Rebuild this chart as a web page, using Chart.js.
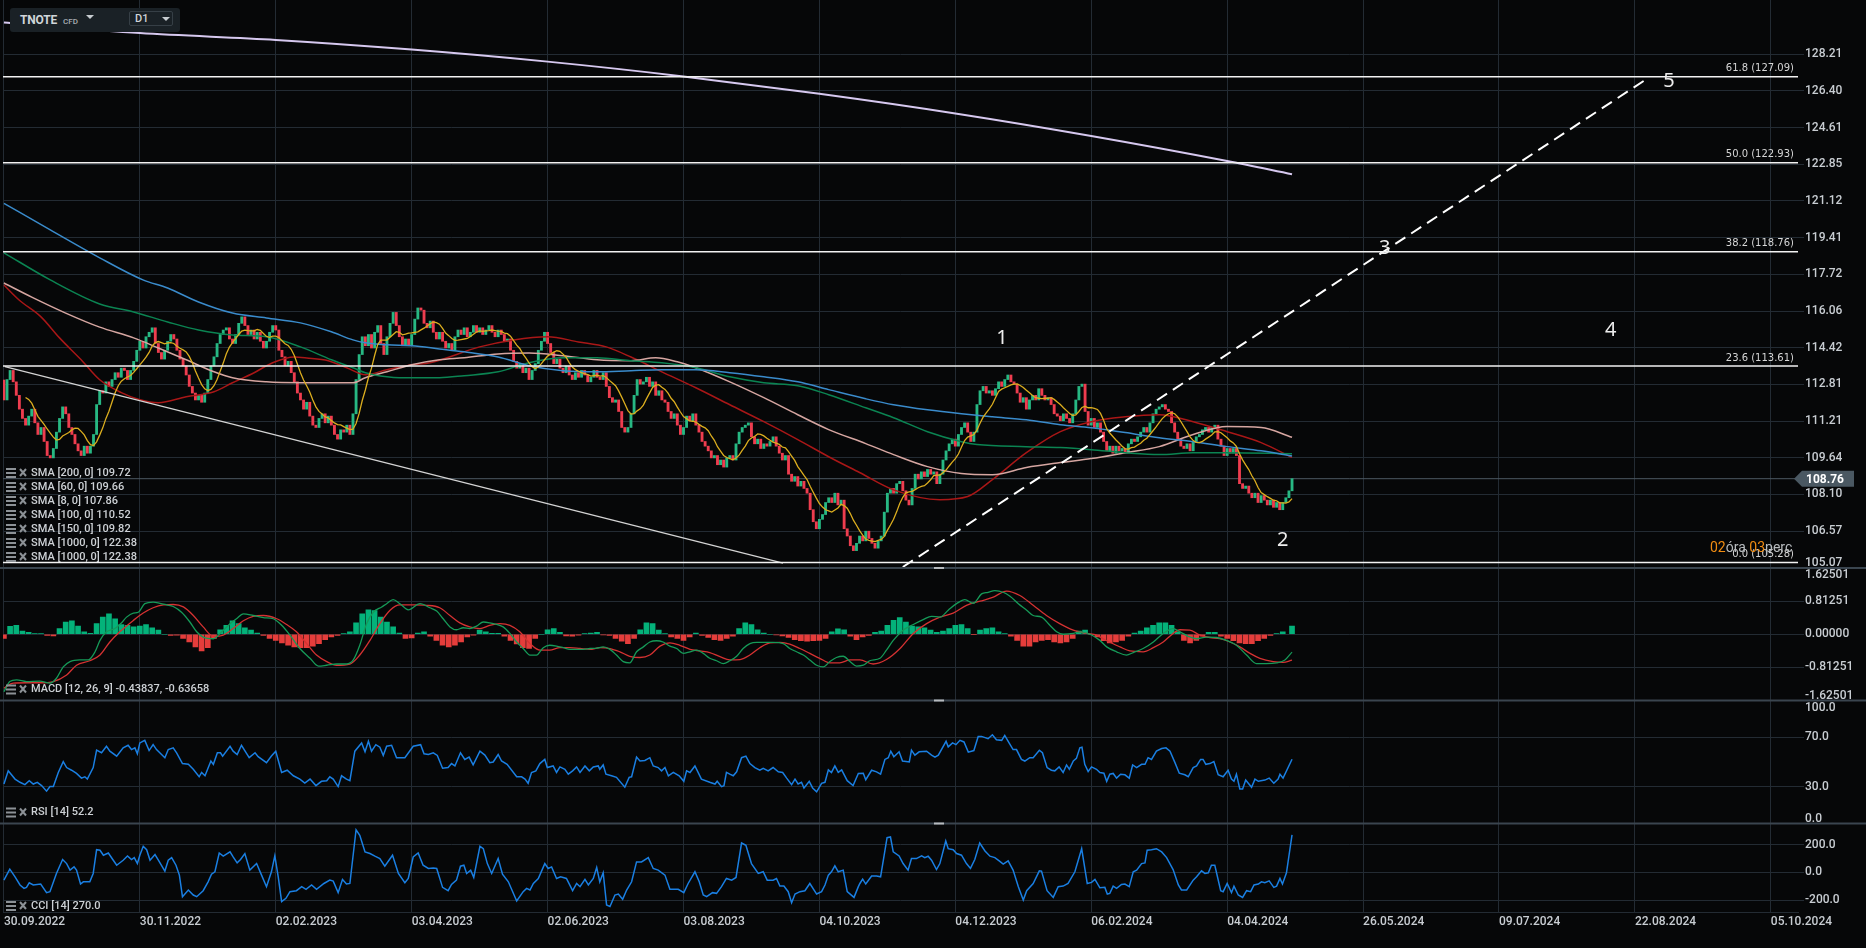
<!DOCTYPE html>
<html>
<head>
<meta charset="utf-8">
<title>TNOTE D1</title>
<script src="https://cdn.jsdelivr.net/npm/chart.js@4.4.1/dist/chart.umd.min.js"></script>
<style>
html, body { margin: 0; padding: 0; background: #060708; overflow: hidden; }
#wrap { position: relative; width: 1866px; height: 948px; }
canvas { display: block; }
#sym { position: absolute; left: 10px; top: 8px; width: 170px; height: 24px; background: #1a2126; border-radius: 3px; font-family: Roboto, sans-serif; color: #d0d5d9; }
#symName { position: absolute; left: 10px; top: 5px; font-weight: 700; font-size: 12px; letter-spacing: -0.2px; }
#symCfd { position: absolute; left: 53px; top: 9px; font-weight: 500; font-size: 8px; color: #a8aeb3; }
#tf { position: absolute; left: 119px; top: 3px; width: 44px; height: 15px; box-sizing: border-box; border: 1px solid #363f46; border-radius: 2px; font-weight: 500; font-size: 11px; line-height: 13px; padding-left: 5px; }
.tri { position: absolute; width: 0; height: 0; border-left: 4px solid transparent; border-right: 4px solid transparent; border-top: 4px solid #c8cdd1; }
</style>
</head>
<body>
<div id="wrap">
  <canvas id="chart" width="1866" height="948"></canvas>
  <div id="sym">
    <span id="symName">TNOTE</span><span id="symCfd">CFD</span><i class="tri" style="left:76px;top:7px"></i>
    <div id="tf">D1<i class="tri" style="left:32px;top:5px"></i></div>
  </div>
</div>
<script>
// ---- data ----
const dateLabels = ['30.09.2022', '30.11.2022', '02.02.2023', '03.04.2023', '02.06.2023', '03.08.2023', '04.10.2023',
    '04.12.2023', '06.02.2024', '04.04.2024', '26.05.2024', '09.07.2024', '22.08.2024', '05.10.2024'];
const dateTickBars = [0, 44, 88, 132, 176, 220, 264, 308, 352, 396, 440, 484, 528, 572];

const priceTicks = [105.07, 106.57, 108.10, 109.64, 111.21, 112.81, 114.42, 116.06, 117.72, 119.41, 121.12, 122.85, 124.61, 126.40, 128.21];
const macdTicks = [-1.62501, -0.81251, 0, 0.81251, 1.62501];
const rsiTicks = [0, 30, 70, 100];
const cciTicks = [-200, 0, 200];

const firstOpen = 113.0;
const closes = [
    112.13, 113.02, 113.42, 112.92, 112.33, 111.73, 111.33, 111.04, 111.43, 111.73,
    111.14, 110.64, 110.94, 110.34, 109.74, 109.64, 110.04, 110.74, 111.33, 111.83,
    111.53, 110.94, 110.64, 110.24, 109.94, 109.74, 110.14, 109.84, 110.14, 110.64,
    111.93, 112.53, 112.43, 112.92, 112.72, 113.02, 113.32, 113.12, 113.52, 113.42,
    113.02, 113.42, 113.82, 114.31, 114.71, 114.41, 114.91, 115.11, 115.31, 114.61,
    114.21, 113.92, 114.31, 114.71, 115.01, 114.81, 114.31, 113.92, 113.62, 113.22,
    112.72, 112.43, 112.13, 112.33, 112.03, 112.43, 113.02, 113.62, 114.02, 114.61,
    115.01, 115.21, 115.31, 114.81, 114.61, 115.01, 115.51, 115.80, 115.41, 115.01,
    115.21, 114.81, 115.11, 114.71, 114.41, 114.71, 115.11, 115.41, 115.21, 114.31,
    114.02, 113.62, 113.82, 113.32, 112.92, 112.43, 112.13, 111.73, 112.03, 111.43,
    111.04, 110.94, 111.33, 111.53, 111.14, 111.43, 111.04, 110.64, 110.44, 110.84,
    110.74, 111.04, 110.64, 111.53, 113.02, 114.12, 114.91, 114.51, 115.01, 114.41,
    115.11, 115.41, 114.61, 114.12, 114.91, 115.51, 116.00, 115.41, 114.91, 114.51,
    114.81, 114.51, 115.01, 115.70, 116.20, 116.10, 115.51, 115.31, 115.61, 115.11,
    114.81, 115.11, 114.71, 114.41, 114.61, 114.31, 114.91, 115.21, 115.01, 115.31,
    114.91, 115.11, 115.41, 115.11, 115.31, 115.01, 115.21, 115.41, 115.11, 114.91,
    115.21, 115.01, 114.71, 114.81, 114.31, 113.82, 113.52, 113.72, 113.32, 113.52,
    113.02, 113.42, 113.72, 114.31, 114.71, 115.11, 114.61, 114.21, 113.72, 113.92,
    113.52, 113.32, 113.62, 113.22, 113.02, 113.32, 113.12, 113.42, 113.22, 112.92,
    113.12, 113.42, 113.12, 113.02, 113.32, 112.72, 112.23, 112.03, 112.13, 111.63,
    110.94, 110.74, 110.94, 111.53, 112.33, 113.02, 112.82, 112.92, 113.12, 112.72,
    112.92, 112.33, 112.53, 112.13, 112.03, 111.63, 111.33, 111.53, 111.04, 110.64,
    110.94, 111.43, 111.23, 111.53, 111.04, 110.74, 110.34, 110.14, 109.94, 109.64,
    109.74, 109.35, 109.55, 109.25, 109.64, 109.74, 109.55, 110.24, 110.74, 110.94,
    111.04, 111.14, 110.54, 110.24, 110.44, 110.04, 110.24, 110.14, 110.34, 110.54,
    110.14, 109.84, 109.55, 109.74, 108.95, 108.65, 108.85, 108.45, 108.65, 108.35,
    108.15, 107.46, 106.96, 106.67, 107.06, 107.26, 107.76, 107.96, 107.76, 108.15,
    107.66, 107.86, 106.67, 106.37, 105.97, 105.77, 106.07, 106.37, 106.17, 106.57,
    106.27, 106.07, 105.87, 106.17, 106.37, 107.36, 108.15, 108.35, 108.15, 108.55,
    108.65, 108.25, 107.86, 107.66, 108.35, 108.95, 108.75, 109.05, 108.85, 109.15,
    108.95, 109.05, 108.55, 108.95, 109.55, 109.94, 110.24, 110.44, 110.14, 110.64,
    110.94, 111.14, 110.74, 110.34, 110.74, 111.93, 112.53, 112.72, 112.43, 112.53,
    112.33, 112.62, 112.92, 112.72, 113.02, 113.22, 112.92, 112.82, 112.43, 112.03,
    112.23, 111.73, 112.13, 112.33, 112.13, 112.62, 112.33, 112.13, 112.23, 111.93,
    111.53, 111.43, 111.23, 111.53, 111.33, 111.14, 111.53, 112.13, 112.72, 112.82,
    111.63, 111.04, 111.33, 110.94, 111.14, 110.74, 110.34, 109.94, 110.14, 109.84,
    110.14, 109.94, 110.04, 109.84, 110.24, 110.44, 110.34, 110.54, 110.74, 110.94,
    110.74, 111.14, 111.53, 111.73, 111.83, 111.93, 111.73, 111.63, 111.14, 110.74,
    110.44, 110.14, 110.04, 110.24, 109.94, 110.34, 110.54, 110.64, 110.84, 110.94,
    110.74, 110.94, 111.04, 110.44, 110.14, 109.74, 110.04, 109.84, 110.04, 109.74,
    108.55, 108.35, 108.45, 108.15, 107.96, 108.15, 107.76, 108.05, 107.86, 107.66,
    107.86, 107.56, 107.76, 107.46, 107.76, 107.96, 108.25, 108.76
];

// moving averages as [bar, price]
const sma200 = [[0, 121.01], [15, 119.77], [31, 118.48], [45, 117.47], [53, 117.1], [63, 116.47], [74, 115.97], [85, 115.75],
    [96, 115.53], [106, 115.13], [113, 114.77], [117, 114.64], [124, 114.55], [132, 114.51], [141, 114.37], [149, 114.24],
    [160, 114.01], [170, 113.63], [181, 113.41], [192, 113.36], [203, 113.41], [213, 113.45], [224, 113.45], [235, 113.32],
    [246, 113.14], [257, 112.92], [267, 112.58], [279, 112.18], [288, 111.92], [299, 111.7], [310, 111.53], [320, 111.4],
    [331, 111.27], [342, 111.06], [352, 110.93], [363, 110.72], [374, 110.5], [385, 110.33], [396, 110.12], [407, 109.94], [417, 109.72]];
const sma150 = [[0, 118.71], [15, 117.47], [31, 116.38], [42, 116.02], [53, 115.57], [63, 115.21], [74, 114.99], [85, 114.91],
    [96, 114.46], [106, 113.89], [113, 113.54], [117, 113.32], [124, 113.14], [128, 113.1], [141, 113.1], [149, 113.19],
    [160, 113.36], [170, 113.76], [181, 113.98], [192, 113.98], [203, 113.85], [213, 113.76], [224, 113.54], [235, 113.14],
    [246, 112.88], [257, 112.75], [267, 112.36], [279, 111.79], [288, 111.36], [299, 110.76], [310, 110.33], [315, 110.21],
    [331, 110.12], [342, 110.08], [352, 109.99], [363, 109.86], [374, 109.78], [385, 109.86], [396, 109.86], [417, 109.82]];
const sma100 = [[0, 117.33], [9, 116.69], [20, 115.97], [31, 115.34], [42, 114.86], [50, 114.41], [59, 113.89], [68, 113.36],
    [74, 113.1], [85, 112.92], [96, 112.88], [106, 112.88], [113, 112.88], [117, 113.1], [124, 113.36], [132, 113.67],
    [141, 113.89], [149, 113.98], [160, 114.15], [170, 114.19], [181, 114.07], [192, 113.89], [203, 113.85], [211, 113.98],
    [218, 113.8], [224, 113.54], [235, 112.92], [246, 112.23], [257, 111.49], [267, 110.85], [279, 110.25], [288, 109.78],
    [299, 109.27], [310, 108.98], [320, 108.93], [331, 109.23], [342, 109.44], [352, 109.61], [363, 109.86], [374, 110.12],
    [385, 110.64], [396, 110.98], [407, 110.94], [417, 110.52]];
const sma60 = [[0, 117.24], [5, 116.55], [12, 115.8], [18, 114.86], [25, 113.89], [31, 113.01], [38, 112.45], [44, 112.14],
    [50, 112.01], [59, 112.27], [68, 112.49], [74, 112.88], [81, 113.32], [87, 113.76], [94, 114.01], [98, 113.97],
    [105, 113.85], [111, 113.54], [117, 113.23], [124, 113.45], [132, 113.67], [138, 113.76], [154, 114.46], [165, 114.77],
    [176, 114.91], [186, 114.68], [195, 114.46], [203, 114.01], [213, 113.36], [224, 112.66], [235, 111.92], [246, 111.19],
    [257, 110.42], [267, 109.69], [277, 109.02], [288, 108.29], [303, 107.88], [312, 108.01], [320, 108.72], [331, 109.86],
    [342, 110.76], [352, 111.19], [363, 111.4], [374, 111.49], [385, 111.19], [396, 110.76], [407, 110.29], [417, 109.66]];
const sma1000 = [[0, 129.79], [44, 129.26], [88, 128.92], [132, 128.44], [176, 127.84], [220, 127.11], [264, 126.26],
    [308, 125.3], [352, 124.21], [396, 123.01], [417, 122.38]];

// drawings
const fibLevels = [61.8, 50.0, 38.2, 23.6, 0.0];
const fibPrices = [127.09, 122.93, 118.76, 113.61, 105.28];
const trendBars = [0.3, 252.2];
const trendPrices = [113.59, 105.26];
const projBars = [291.0, 531.9];
const projPrices = [105.10, 126.99];
const waveLabels = ['1', '2', '3', '4', '5'];
const waveBars = [323.1, 414, 447, 520.2, 539];
const wavePrices = [114.84, 106.21, 118.94, 115.2, 126.85];

// MACD [12, 26, 9]
const macdLine = [[0, -1.41], [1.9, -1.16], [4.1, -1.12], [7.3, -1.16], [11.6, -1.15], [14.9, -1.2], [17, -1.08], [19.2, -0.8],
    [21.4, -0.67], [24.6, -0.63], [27.3, -0.63], [29.5, -0.43], [31.1, -0.15], [33.2, 0.06], [35.9, 0.14], [38.1, 0.28],
    [39.7, 0.42], [41.9, 0.52], [43.5, 0.54], [45.6, 0.75], [48.3, 0.79], [50.5, 0.76], [52.7, 0.72], [54.8, 0.68],
    [57.5, 0.54], [60.2, 0.3], [62.4, 0.06], [64.5, -0.07], [67.8, -0.11], [70.5, 0.06], [73.2, 0.26], [75.3, 0.38],
    [77.5, 0.5], [80.7, 0.46], [84, 0.41], [87.2, 0.38], [89.9, 0.22], [92.6, -0.02], [95.8, -0.35], [99.1, -0.59],
    [101.8, -0.78], [104.5, -0.76], [107.7, -0.73], [110.9, -0.73], [113.1, -0.63], [115.2, -0.27], [117.4, 0.26],
    [119.6, 0.54], [122.3, 0.67], [123.9, 0.75], [126, 0.85], [128.2, 0.75], [130.9, 0.6], [134.7, 0.75], [137.9, 0.65],
    [140.1, 0.57], [142.2, 0.38], [144.4, 0.18], [146.5, 0.11], [148.7, 0.16], [150.8, 0.14], [153, 0.2], [155.2, 0.3],
    [157.3, 0.28], [159.5, 0.24], [161.6, 0.18], [163.8, 0.02], [166, -0.19], [168.1, -0.35], [170.3, -0.51], [172.4, -0.51],
    [174.6, -0.33], [176.7, -0.27], [178.9, -0.29], [181.1, -0.33], [183.2, -0.37], [185.4, -0.37], [187.5, -0.37],
    [189.7, -0.35], [191.9, -0.34], [194, -0.31], [196.2, -0.37], [198.3, -0.51], [200.5, -0.67], [202.6, -0.7],
    [204.8, -0.43], [207, -0.31], [209.1, -0.19], [211.3, -0.16], [213.4, -0.19], [215.6, -0.29], [217.8, -0.35],
    [219.9, -0.47], [222.1, -0.43], [224.2, -0.39], [226.4, -0.47], [228.5, -0.59], [230.7, -0.65], [232.9, -0.72],
    [235, -0.65], [237.2, -0.54], [239.3, -0.35], [241.5, -0.23], [243.7, -0.2], [245.8, -0.2], [249, -0.2], [252.3, -0.23],
    [254.4, -0.35], [256.6, -0.43], [258.8, -0.51], [260.9, -0.63], [263.1, -0.76], [265.2, -0.8], [267.4, -0.67],
    [269.5, -0.57], [271.7, -0.54], [273.9, -0.67], [276, -0.78], [278.2, -0.76], [280.3, -0.65], [283.6, -0.59],
    [285.7, -0.39], [287.9, -0.15], [291.1, 0.1], [294.4, 0.24], [297.6, 0.36], [300.3, 0.44], [303, 0.42], [305.7, 0.59],
    [308.4, 0.75], [311.1, 0.85], [313.8, 0.76], [316.5, 0.99], [318.6, 1.03], [320.8, 1.07], [323.5, 1.03], [325.7, 0.93],
    [328.4, 0.75], [331.1, 0.59], [333.2, 0.46], [335.9, 0.42], [338.6, 0.22], [340.8, 0.06], [342.9, 0], [346.2, 0.02],
    [348.3, 0.06], [351.6, 0], [354.8, -0.15], [357, -0.31], [360.2, -0.43], [363.4, -0.51], [365.6, -0.45], [368.8, -0.35],
    [372.1, -0.19], [375.3, 0.02], [378.5, 0.14], [380.7, 0.06], [383.4, -0.05], [386.1, -0.11], [389.3, -0.07],
    [392.6, -0.08], [395.8, -0.15], [399, -0.27], [402.3, -0.51], [405.5, -0.72], [408.7, -0.72], [412, -0.7],
    [414.7, -0.63], [417, -0.438]];
const macdSignal = [[0, -1.32], [3, -1.2], [7.3, -1.19], [11.6, -1.19], [16, -1.16], [20.3, -1.0], [23.5, -0.76], [27.8, -0.65],
    [31.1, -0.51], [34.3, -0.19], [37.5, 0.06], [41.9, 0.34], [45.1, 0.52], [48.3, 0.65], [51.6, 0.72], [54.8, 0.73],
    [58.1, 0.67], [61.3, 0.46], [64.5, 0.18], [67.8, -0.05], [71, -0.02], [74.2, 0.14], [77.5, 0.33], [80.7, 0.44],
    [84, 0.46], [88.3, 0.38], [91.5, 0.24], [94.7, 0.06], [98, -0.23], [101.2, -0.51], [104.5, -0.67], [107.7, -0.76],
    [112, -0.73], [115.2, -0.51], [118.5, -0.15], [121.7, 0.26], [125, 0.59], [128.2, 0.72], [132.5, 0.72], [136.8, 0.71],
    [141.1, 0.65], [144.4, 0.46], [147.6, 0.28], [150.8, 0.18], [154.1, 0.14], [157.3, 0.22], [160.6, 0.26], [163.8, 0.22],
    [167, 0.06], [170.3, -0.23], [173.5, -0.39], [176.7, -0.39], [180, -0.33], [183.2, -0.33], [186.5, -0.35],
    [189.7, -0.37], [192.9, -0.33], [196.2, -0.35], [199.4, -0.43], [202.6, -0.54], [205.9, -0.57], [209.1, -0.51],
    [212.4, -0.29], [215.6, -0.21], [218.8, -0.27], [222.1, -0.37], [225.3, -0.41], [228.5, -0.45], [231.8, -0.55],
    [235, -0.63], [238.3, -0.62], [241.5, -0.51], [244.7, -0.33], [248, -0.21], [251.2, -0.2], [254.4, -0.24],
    [257.7, -0.35], [260.9, -0.47], [264.1, -0.59], [267.4, -0.7], [270.6, -0.7], [273.9, -0.63], [277.1, -0.63],
    [281.4, -0.73], [285.7, -0.62], [290.1, -0.35], [294.4, 0.02], [298.7, 0.26], [303, 0.42], [307.3, 0.52],
    [311.6, 0.71], [316, 0.81], [320.3, 0.91], [324.6, 1.06], [328.9, 0.95], [333.2, 0.71], [337.5, 0.46], [341.8, 0.26],
    [346.2, 0.1], [350.5, 0.02], [353.7, -0.02], [357, -0.16], [361.3, -0.31], [364.5, -0.41], [368.8, -0.43],
    [372.1, -0.33], [375.3, -0.19], [378.5, 0.02], [380.7, 0.11], [383.9, 0.1], [387.2, -0.02], [390.4, -0.08],
    [393.6, -0.11], [396.9, -0.19], [400.1, -0.31], [403.4, -0.47], [406.6, -0.59], [410.9, -0.67], [414.1, -0.69], [417, -0.637]];
const macdHist = [[0, -0.1], [2, 0.195], [4, 0.22], [6, 0.08], [8, 0.05], [10, 0.016], [12, 0.016], [14, -0.03], [16, -0.04],
    [18, 0.14], [20, 0.3], [22, 0.33], [24, 0.2], [26, 0.06], [28, 0.02], [30, 0.26], [32, 0.42], [34, 0.5], [36, 0.38],
    [38, 0.24], [40, 0.22], [42, 0.18], [44, 0.2], [46, 0.24], [48, 0.16], [50, 0.1], [52, 0], [54, -0.03], [56, -0.02],
    [58, -0.1], [60, -0.19], [62, -0.31], [64, -0.41], [66, -0.33], [68, -0.1], [70, 0.11], [72, 0.22], [74, 0.33],
    [76, 0.26], [78, 0.16], [80, 0.1], [82, 0.03], [84, -0.03], [86, -0.1], [88, -0.15], [90, -0.21], [92, -0.27],
    [94, -0.31], [96, -0.33], [98, -0.33], [100, -0.29], [102, -0.23], [104, -0.13], [106, -0.065], [108, -0.03],
    [110, 0.016], [112, 0.06], [114, 0.28], [116, 0.5], [118, 0.6], [120, 0.58], [122, 0.42], [124, 0.3], [126, 0.18],
    [128, 0.03], [130, -0.1], [132, -0.09], [134, 0.03], [136, 0.06], [138, -0.05], [140, -0.15], [142, -0.27],
    [144, -0.31], [146, -0.27], [148, -0.19], [150, -0.065], [152, -0.02], [154, 0.1], [156, 0.06], [158, 0.02],
    [160, 0.02], [162, -0.05], [164, -0.15], [166, -0.24], [168, -0.33], [170, -0.35], [172, -0.1], [174, 0], [176, 0.11],
    [178, 0.14], [180, 0.05], [182, -0.04], [184, -0.05], [186, -0.02], [188, 0.016], [190, 0.03], [192, 0.05],
    [194, -0.016], [196, -0.03], [198, -0.1], [200, -0.17], [202, -0.23], [204, -0.1], [206, 0.11], [208, 0.28],
    [210, 0.26], [212, 0.1], [214, 0.016], [216, -0.065], [218, -0.1], [220, -0.15], [222, -0.065], [224, 0.03],
    [226, -0.03], [228, -0.08], [230, -0.13], [232, -0.15], [234, -0.1], [236, -0.05], [238, 0.14], [240, 0.28],
    [242, 0.24], [244, 0.11], [246, 0.03], [248, 0], [250, -0.016], [252, -0.04], [254, -0.08], [256, -0.13], [258, -0.16],
    [260, -0.17], [262, -0.16], [264, -0.15], [266, -0.1], [268, 0.06], [270, 0.13], [272, 0.11], [274, -0.05],
    [276, -0.13], [278, -0.065], [280, -0.03], [282, 0.05], [284, 0.08], [286, 0.22], [288, 0.34], [290, 0.41], [292, 0.3],
    [294, 0.2], [296, 0.18], [298, 0.16], [300, 0.1], [302, 0.05], [304, 0.08], [306, 0.14], [308, 0.22], [310, 0.24],
    [312, 0.14], [314, -0.01], [316, 0.1], [318, 0.14], [320, 0.16], [322, 0.06], [324, 0.016], [326, -0.05],
    [328, -0.15], [330, -0.29], [332, -0.29], [334, -0.19], [336, -0.15], [338, -0.13], [340, -0.19], [342, -0.21],
    [344, -0.19], [346, -0.1], [348, 0.08], [350, 0.1], [352, 0], [354, -0.065], [356, -0.16], [358, -0.21], [360, -0.19],
    [362, -0.15], [364, -0.05], [366, 0.03], [368, 0.08], [370, 0.16], [372, 0.22], [374, 0.28], [376, 0.28], [378, 0.22],
    [380, 0.06], [382, -0.15], [384, -0.21], [386, -0.15], [388, -0.05], [390, 0.05], [392, 0.05], [394, -0.05],
    [396, -0.1], [398, -0.16], [400, -0.21], [402, -0.23], [404, -0.23], [406, -0.16], [408, -0.1], [410, -0.03],
    [412, 0.016], [414, 0.06], [417, 0.2]];

// RSI [14]
const rsiLine = [[0, 32.1], [1.4, 42.8], [3.6, 36.1], [5.2, 33.5], [6.8, 31.6], [8.2, 34.8], [9.5, 32.1], [10.8, 33.5],
    [12.2, 30.8], [13.8, 26.3], [14.9, 30], [16, 30], [17.6, 41.5], [19.2, 50.3], [20.3, 45.5], [21.9, 43.3], [23.5, 40.7],
    [25.1, 36.9], [26.2, 38], [27, 36.1], [28.9, 45.5], [30, 59.6], [31.6, 57.5], [33.2, 62.8], [34.3, 58.8], [36.5, 54.8],
    [38.6, 61.5], [40.2, 63.6], [41.3, 60.1], [42.4, 61.5], [43.2, 56.7], [44, 65.5], [45.6, 67.6], [47, 59.3], [48.3, 64.1],
    [49.4, 60.1], [52.1, 53.5], [53.2, 60.1], [54.8, 61.5], [55.9, 57.5], [57.8, 48.7], [59.7, 48.1], [61.3, 44.1],
    [63.2, 38], [64, 41.5], [65.1, 38.8], [67, 50.8], [67.8, 48.1], [69.1, 57.5], [70.1, 57.5], [70.8, 54.8], [73.2, 62.8],
    [74.2, 58.8], [75.5, 56.1], [76.9, 63.6], [79.4, 53.5], [81.3, 57.5], [82.3, 54.3], [85, 49.5], [86.6, 54.8], [88, 58.8],
    [89.9, 41.5], [91.7, 43.3], [93.7, 38.8], [95.8, 36.1], [97.4, 32.9], [99.1, 36.1], [101, 30.8], [102.8, 34.3],
    [104.5, 34.8], [105.5, 38], [106.6, 36.1], [108.2, 30], [109.3, 38.8], [110.9, 36.1], [112, 34.8], [113.6, 58.8],
    [115.8, 65.5], [116.9, 58.3], [118, 66.8], [119, 58.8], [120.4, 64.1], [121.7, 62], [122.8, 55.3], [123.9, 62.8],
    [125.5, 63.6], [127.1, 53.5], [129.8, 53.5], [132.5, 62.8], [134.9, 64.1], [136, 56.7], [137.4, 56.1], [139, 57.5],
    [140.3, 55.3], [142, 44.9], [143.8, 45.5], [144.9, 48.7], [146, 46.8], [147.8, 57.5], [149.2, 52.1], [150.6, 54],
    [151.9, 47.6], [154.1, 58.8], [155.7, 55.6], [157.3, 49.5], [158.4, 50], [160, 56.1], [161.1, 50.8], [162.9, 48.1],
    [166, 38], [167.6, 38], [168.7, 36.1], [169.7, 32.7], [170.8, 41.5], [172.2, 42.8], [173.5, 48.7], [175.1, 52.1],
    [175.9, 45.5], [177.8, 46.8], [178.9, 41.5], [180, 46], [181.6, 44.1], [182.7, 40.1], [184.1, 42.8], [185.4, 46],
    [186.5, 41.5], [188.1, 46.8], [189.5, 42.8], [190.8, 46], [192.4, 46.8], [192.9, 44.1], [194, 47.6], [194.9, 40.1],
    [196.7, 38.8], [198.3, 37.5], [201, 29.5], [202.4, 37.5], [203.2, 38], [204.8, 54], [205.9, 50.8], [207.5, 51.3],
    [209.1, 53.5], [210.2, 46.8], [211.8, 45.5], [212.9, 42.8], [214, 45.5], [215.1, 38.8], [216.7, 41.5], [218.6, 38.8],
    [220.1, 34.3], [221, 42.8], [222.1, 41.5], [223.7, 46.8], [225.8, 36.1], [228.5, 33.5], [230.2, 32.1], [230.9, 34.3],
    [232.3, 30], [233.1, 30.8], [233.9, 41.5], [235, 40.1], [236.1, 38.8], [237.2, 42], [238.8, 53.5], [240.2, 54.8],
    [241.5, 48.7], [243.1, 45.5], [244.7, 43.3], [245.8, 44.9], [247.4, 42.8], [249, 45.5], [250.7, 42], [252.1, 41.5],
    [253.4, 36.9], [255, 31.6], [256.1, 36.1], [257.1, 32.1], [258.2, 33.5], [259, 28.9], [260.7, 34.3], [261.8, 28.9],
    [263.1, 25.7], [264.7, 32.7], [265.8, 33.5], [266.9, 43.6], [267.9, 41.5], [269, 46.8], [270.1, 41.5], [271.2, 43.6],
    [273, 34.8], [274.9, 30.8], [276.6, 40.7], [278.2, 40.9], [279, 35.6], [280.9, 43.3], [282.5, 42], [283.8, 40.1],
    [285.2, 52.1], [286.3, 53.5], [287.1, 58.8], [288.1, 54.3], [289.8, 58.3], [290.9, 50.8], [293.1, 50], [293.8, 59.6],
    [294.9, 55.6], [296.3, 58.3], [298.7, 58.8], [300.3, 55.6], [301.4, 54], [302.5, 55.6], [305, 66.8], [305.7, 62.3],
    [307.1, 65.5], [308.2, 64.1], [309.5, 67.6], [310.8, 66.3], [312.2, 58], [314, 59.3], [315.4, 70.8], [316.5, 70.8],
    [318.6, 68.9], [320, 72.1], [321.3, 68.1], [323, 67.6], [324, 71.6], [325.4, 65.5], [326.7, 60.1], [327.8, 60.1],
    [329.4, 52.1], [330.5, 50.8], [332.1, 53.5], [333.2, 53.5], [335.2, 59.6], [336.2, 57.5], [337.7, 45.5], [339.1, 43.3],
    [340.2, 42.8], [341.6, 46], [342.9, 41.5], [344, 47.6], [344.9, 44.1], [346.2, 50.8], [347.2, 52.9], [348.3, 61.5],
    [349, 62], [349.9, 48.1], [351, 42.3], [352.1, 46], [353.7, 44.1], [354.8, 41.5], [356.1, 40.9], [357, 34.3],
    [358, 40.1], [359.1, 40.7], [360.2, 36.9], [361.5, 40.1], [362.9, 39.6], [364.3, 36.9], [365.4, 47.6], [366.7, 45.5],
    [368.3, 48.1], [369.4, 48.1], [370.4, 53.5], [371.5, 52.1], [373.1, 58.8], [374.8, 60.9], [376.2, 61.5], [377.5, 58.8],
    [379.1, 49.5], [380.5, 40.9], [382.3, 39.6], [383.4, 38], [385, 45.5], [386.1, 46.8], [387.4, 52.1], [388.2, 52.1],
    [389.1, 48.1], [390.4, 48.7], [391.7, 50.3], [393.1, 39.6], [394.7, 38], [396.3, 43.3], [397.4, 36.1], [398.2, 34.3],
    [399, 40.1], [400.1, 28.1], [401, 28.1], [402, 35.3], [403.9, 29.5], [405, 36.1], [406.1, 34.3], [408.2, 35.3],
    [409.6, 36.9], [411.1, 32.7], [412.5, 36.1], [413.1, 40.1], [414.1, 36.9], [417, 52.2]];

// CCI [14]
const cciLine = [[0, -55], [1.9, 24], [3.6, -31], [5.2, -90], [6.5, -114], [7.3, -107], [8.2, -74], [9.5, -90], [11.9, -83],
    [13.8, -145], [14.9, -138], [17, -7], [19, 93], [20.3, 64], [21.4, 17], [22.7, 40], [23.5, 17], [24.8, -83], [25.7, -67],
    [27.8, -67], [28.9, -7], [30, 164], [31.1, 160], [32.2, 124], [33.8, 140], [35.4, 88], [36.5, 52], [38.6, 88], [40, 119],
    [41.3, 93], [42.2, 107], [43.2, 64], [44, 124], [45.1, 188], [46.2, 164], [47.3, 88], [48.9, 129], [50, 88], [52.1, 10],
    [53.2, 88], [54.3, 107], [55.7, 52], [56.8, -19], [57.8, -174], [59.7, -126], [61.3, -162], [62.4, -174], [64.5, -131],
    [66.1, -67], [67.2, -12], [68.3, 5], [69.7, 140], [71, 117], [73.2, 148], [74.2, 112], [75.5, 69], [76.6, 93],
    [78, 136], [79.6, 17], [81.8, 64], [83.4, -19], [85, -102], [86.6, 5], [87.7, 119], [88.8, -31], [89.9, -210],
    [91.3, -186], [92.6, -138], [94.7, -131], [96.4, -102], [97.8, -121], [99.6, -90], [101.2, -121], [103.6, -79],
    [105.5, -55], [106.6, -62], [108.2, -145], [109.6, -50], [110.9, -83], [112, -79], [114, 307], [115.2, 267],
    [116.9, 148], [118.5, 136], [120.1, 117], [121.7, 100], [123.3, 45], [125.8, 124], [127.7, -7], [129.8, -74],
    [130.9, -43], [132.5, 112], [134.1, 140], [135.7, 52], [137.4, 29], [139, 33], [140.1, 29], [142, -107], [143.8, -131],
    [144.9, -86], [146.5, -55], [147.8, 45], [148.9, 52], [149.8, -7], [151.1, 17], [152.1, -36], [154.1, 188],
    [155.2, 171], [156.5, 64], [157.9, -7], [160, 100], [161.4, -12], [163.3, -67], [166, -205], [168.1, -138],
    [169.2, -114], [170.3, -126], [171.4, -79], [173, -43], [175.1, 64], [176.2, 29], [177.3, 40], [178.9, -43],
    [180.2, -31], [182.1, -43], [184.1, -131], [185.4, -79], [186.5, -102], [188.1, -50], [189.2, -90], [190.8, -43],
    [191.9, 36], [192.9, -67], [194, -2], [195.1, -233], [196.2, -245], [197.8, -162], [198.9, -155], [200.3, -193],
    [201.6, -126], [203.2, -67], [204.8, 76], [206.4, 76], [208.6, 107], [210.2, 29], [211.8, 17], [214, -19],
    [215.6, -121], [218.3, -121], [220.1, -145], [221.5, -79], [223.7, 5], [225.1, -67], [226.4, -162], [227.5, -174],
    [229.4, -145], [230.7, -150], [232.3, -102], [233.9, -43], [235.6, -55], [237, -36], [238.8, 212], [240.2, 195],
    [242, 64], [244.2, -7], [245.8, 5], [247.1, -55], [249, -55], [250.1, -43], [251.2, -98], [252.5, -98], [253.9, -138],
    [255, -217], [256.1, -155], [257.7, -138], [259.3, -131], [260.9, -79], [263.1, -155], [264.7, -138], [265.8, -90],
    [266.9, -19], [267.9, 5], [269, 48], [270.1, 5], [271.7, 17], [273, -138], [275.2, -179], [276.6, -102], [277.1, -79],
    [278, -48], [279, -83], [280.9, -26], [282.5, -26], [283.8, -31], [285.9, 250], [287, 255], [287.9, 148], [289.8, 119],
    [291.1, 64], [292.7, 17], [293.8, 100], [295.4, 100], [297.1, 119], [298.1, 107], [299.2, 117], [300.3, 88],
    [301.9, 21], [303, 64], [304.9, 226], [305.7, 171], [307.3, 164], [308.4, 136], [310, 124], [311.6, 64], [312.9, 29],
    [314.3, 93], [315.9, 212], [317.6, 155], [319.2, 117], [320.8, 107], [322.2, 83], [323.5, 60], [325.1, 83],
    [326.7, 17], [328.4, -102], [330, -198], [331.1, -131], [333.2, -79], [335.2, 12], [335.9, 10], [337.7, -131],
    [339.7, -179], [341.3, -102], [342.9, -98], [344.5, -79], [346.7, 5], [348.9, 171], [350.7, -79], [352.1, -71],
    [353.2, -50], [354.8, -110], [356.4, -107], [357.2, -155], [358, -150], [359.1, -98], [360.2, -114], [361.8, -86],
    [362.9, -83], [364.3, -102], [365.6, 5], [366.7, 17], [368.3, 64], [369.4, 69], [370.1, 160], [371.5, 164],
    [373.1, 171], [374.8, 148], [376.4, 107], [378.5, 21], [380.2, -90], [381.2, -126], [382.9, -126], [385, -55],
    [386.1, -31], [387.7, 12], [388.8, -7], [389.9, -2], [390.9, 52], [392, 52], [393.9, -131], [394.7, -138], [396, -79],
    [397.4, -145], [398.2, -98], [399.6, -162], [401, -179], [402.3, -131], [403.6, -138], [404.7, -90], [406.1, -83],
    [407.1, -67], [408.2, -74], [409.6, -60], [411.1, -107], [412, -98], [413.1, -43], [413.9, -83], [415.2, -2], [417, 270]];

const smaLegend = ['SMA [200, 0] 109.72', 'SMA [60, 0] 109.66', 'SMA [8, 0] 107.86', 'SMA [100, 0] 110.52',
    'SMA [150, 0] 109.82', 'SMA [1000, 0] 122.38', 'SMA [1000, 0] 122.38'];
const macdLegend = 'MACD [12, 26, 9] -0.43837, -0.63658';
const rsiLegend = 'RSI [14] 52.2';
const cciLegend = 'CCI [14] 270.0';

// ---- chart ----
const X_MIN = -0.3, X_MAX = 580.8;
const GRID = '#232b33';
const GREEN = '#27b883', RED = '#ee3d4f';
const HIST_GREEN = '#04b27a', HIST_RED = '#e53d3b';
const AXIS_TEXT = '#c8cdd2';
Chart.defaults.font.family = 'Roboto, sans-serif';

const pts = list => list.map(([x, y]) => ({x, y}));
const opens = closes.map((c, i) => (i === 0 ? firstOpen : closes[i - 1]));
const candles = closes.map((c, i) => ({x: i, y: [opens[i], c]}));
const lastClose = closes[closes.length - 1];

var sma8 = [];
for (let i = 7; i < closes.length; i++) {
    let sum = 0;
    for (let k = i - 7; k <= i; k++) sum += closes[k];
    sma8.push({x: i, y: sum / 8});
}

function lineSet(label, data, color, axis, extra) {
    return Object.assign({
        type: 'line', label: label, data: data, yAxisID: axis,
        borderColor: color, borderWidth: 1.5, pointRadius: 0, tension: 0, order: 10
    }, extra || {});
}
const smooth = {cubicInterpolationMode: 'monotone'};

var datasets = [
    lineSet('last', [{x: X_MIN, y: lastClose}, {x: X_MAX, y: lastClose}], '#4c5862', 'y', {borderWidth: 1, order: 40}),
    {
        type: 'bar', label: 'TNOTE', data: candles, yAxisID: 'y', grouped: false,
        barThickness: 2.2, minBarLength: 1, borderWidth: 0, order: 30,
        backgroundColor: c => (c.raw && c.raw.y[1] >= c.raw.y[0] ? GREEN : RED)
    },
    lineSet('SMA 200', pts(sma200), '#3a8bcb', 'y', smooth),
    lineSet('SMA 150', pts(sma150), '#0b8452', 'y', smooth),
    lineSet('SMA 100', pts(sma100), '#d6a6a1', 'y', smooth),
    lineSet('SMA 60', pts(sma60), '#a91717', 'y', smooth),
    lineSet('SMA 8', sma8, '#dcae1f', 'y', {borderWidth: 1.3, order: 8}),
    lineSet('SMA 1000', pts(sma1000), '#d6c8ef', 'y', Object.assign({borderWidth: 2}, smooth)),
    lineSet('trend', trendBars.map((b, i) => ({x: b, y: trendPrices[i]})), '#d4d4d4', 'y', {borderWidth: 1.2, order: 3}),
    lineSet('projection', projBars.map((b, i) => ({x: b, y: projPrices[i]})), '#ffffff', 'y', {borderWidth: 2, borderDash: [12, 7], order: 2}),
    {
        type: 'bar', label: 'MACD hist', data: pts(macdHist), yAxisID: 'macd', grouped: false,
        barThickness: 5, borderWidth: 0, order: 30,
        backgroundColor: c => (c.raw && c.raw.y >= 0 ? HIST_GREEN : HIST_RED)
    },
    lineSet('MACD', pts(macdLine), '#169a58', 'macd', Object.assign({borderWidth: 1.3}, smooth)),
    lineSet('Signal', pts(macdSignal), '#d53232', 'macd', Object.assign({borderWidth: 1.3}, smooth)),
    lineSet('RSI', pts(rsiLine), '#1a7fe2', 'rsi'),
    lineSet('CCI', pts(cciLine), '#1a7fe2', 'cci')
];
fibPrices.forEach((p, i) => {
    datasets.push(lineSet('fib ' + fibLevels[i], [{x: X_MIN, y: p}, {x: X_MAX, y: p}], '#f2f2f2', 'y', {order: 1}));
});

function paneScale(weight, min, max, ticks, type) {
    return {
        type: type || 'linear', position: 'right', stack: 'panes', stackWeight: weight,
        min: min, max: max, offset: false,
        grid: {color: GRID, tickLength: 6, drawTicks: true, offset: false},
        border: {display: false},
        ticks: {display: false},
        afterBuildTicks: s => { s.ticks = ticks.map(v => ({value: v})); },
        afterFit: s => { s.width = 68; }
    };
}

function drawAxisLabels(ctx, scale, values, digits) {
    ctx.textAlign = 'left';
    ctx.textBaseline = 'middle';
    values.forEach(v => {
        let py = scale.getPixelForValue(v);
        py = Math.min(Math.max(py, scale.top + 7), scale.bottom - 5);
        ctx.fillText(v.toFixed(digits), scale.left + 7, py);
    });
}

function drawLegendIcons(ctx, y) {
    ctx.fillStyle = '#8c9196';
    ctx.fillRect(6, y - 5, 10, 2);
    ctx.fillRect(6, y - 1, 10, 2);
    ctx.fillRect(6, y + 3, 10, 2);
    ctx.strokeStyle = '#8c9196';
    ctx.lineWidth = 2;
    ctx.beginPath();
    ctx.moveTo(20, y - 4); ctx.lineTo(26, y + 3);
    ctx.moveTo(26, y - 4); ctx.lineTo(20, y + 3);
    ctx.stroke();
}

function legendRow(ctx, text, y) {
    drawLegendIcons(ctx, y);
    ctx.fillStyle = '#cdd1d5';
    ctx.font = '500 11px Roboto';
    ctx.textAlign = 'left';
    ctx.textBaseline = 'middle';
    ctx.fillText(text, 31, y);
}

const overlay = {
    id: 'overlay',
    afterDraw(chart) {
        const ctx = chart.ctx;
        const sx = chart.scales.x, sy = chart.scales.y, sm = chart.scales.macd, sr = chart.scales.rsi, sc = chart.scales.cci;
        ctx.save();

        // pane separators and handles
        [sy, sm, sr].forEach(s => {
            ctx.fillStyle = '#3a454f';
            ctx.fillRect(0, s.bottom - 1, chart.width, 2);
            ctx.fillStyle = '#b6babe';
            ctx.fillRect(934, s.bottom - 1, 10, 2);
        });

        // date labels under the time axis
        ctx.font = '500 12px Roboto';
        ctx.fillStyle = AXIS_TEXT;
        ctx.textAlign = 'left';
        ctx.textBaseline = 'middle';
        dateTickBars.forEach((b, i) => {
            ctx.fillText(dateLabels[i], sx.getPixelForValue(b), sx.top + 10);
        });

        // fib labels
        ctx.font = '10px "DejaVu Sans"';
        ctx.fillStyle = '#d6d6d6';
        ctx.textAlign = 'right';
        ctx.textBaseline = 'bottom';
        fibPrices.forEach((p, i) => {
            ctx.fillText(fibLevels[i].toFixed(1) + ' (' + p.toFixed(2) + ')', sx.right - 4, sy.getPixelForValue(p) - 3);
        });

        // countdown
        ctx.font = '14px Roboto';
        ctx.textAlign = 'left';
        ctx.textBaseline = 'middle';
        let cx = 1710;
        [['02', '#f08c12'], ['óra ', '#b7bbbe'], ['03', '#f08c12'], ['perc', '#b7bbbe']].forEach(([t, col]) => {
            ctx.fillStyle = col;
            ctx.fillText(t, cx, 548);
            cx += ctx.measureText(t).width;
        });

        // wave labels
        ctx.font = '20px "Noto Sans"';
        ctx.fillStyle = '#ededed';
        ctx.textAlign = 'center';
        ctx.textBaseline = 'middle';
        waveLabels.forEach((t, i) => {
            ctx.fillText(t, sx.getPixelForValue(waveBars[i]), sy.getPixelForValue(wavePrices[i]));
        });

        // axis labels
        ctx.font = '500 12px Roboto';
        ctx.fillStyle = AXIS_TEXT;
        drawAxisLabels(ctx, sy, priceTicks, 2);
        drawAxisLabels(ctx, sm, macdTicks, 5);
        drawAxisLabels(ctx, sr, rsiTicks, 1);
        drawAxisLabels(ctx, sc, cciTicks, 1);

        // last price tag
        const py = sy.getPixelForValue(lastClose);
        ctx.fillStyle = '#4a5862';
        ctx.beginPath();
        ctx.moveTo(sx.right - 4, py);
        ctx.lineTo(sx.right + 4, py - 8);
        ctx.lineTo(1854, py - 8);
        ctx.lineTo(1854, py + 8);
        ctx.lineTo(sx.right + 4, py + 8);
        ctx.closePath();
        ctx.fill();
        ctx.fillStyle = '#ffffff';
        ctx.font = '700 12px Roboto';
        ctx.textAlign = 'left';
        ctx.fillText(lastClose.toFixed(2), sx.right + 8, py + 1);

        // indicator legends
        smaLegend.forEach((t, k) => legendRow(ctx, t, sy.bottom - 95 + 14 * k));
        legendRow(ctx, macdLegend, sm.bottom - 11);
        legendRow(ctx, rsiLegend, sr.bottom - 11);
        legendRow(ctx, cciLegend, sc.bottom - 6);

        ctx.restore();
    }
};

new Chart(document.getElementById('chart'), {
    data: {datasets: datasets},
    options: {
        responsive: false,
        animation: false,
        devicePixelRatio: 1,
        events: [],
        layout: {padding: {left: 3, right: 0, top: 0, bottom: 0}},
        plugins: {legend: {display: false}, tooltip: {enabled: false}},
        scales: {
            x: {
                type: 'linear', min: X_MIN, max: X_MAX, offset: false,
                grid: {color: GRID, drawTicks: false, offset: false},
                border: {display: true, color: GRID},
                ticks: {display: false},
                afterBuildTicks: s => { s.ticks = dateTickBars.map(v => ({value: v})); },
                afterFit: s => { s.height = 36; }
            },
            y: paneScale(568, 105.06, 130.93, priceTicks, 'logarithmic'),
            macd: paneScale(132.5, -1.62501, 1.62501, macdTicks),
            rsi: paneScale(123, 0, 100, rsiTicks),
            cci: paneScale(88.5, -284, 352, cciTicks)
        }
    },
    plugins: [overlay]
});
</script>
</body>
</html>
